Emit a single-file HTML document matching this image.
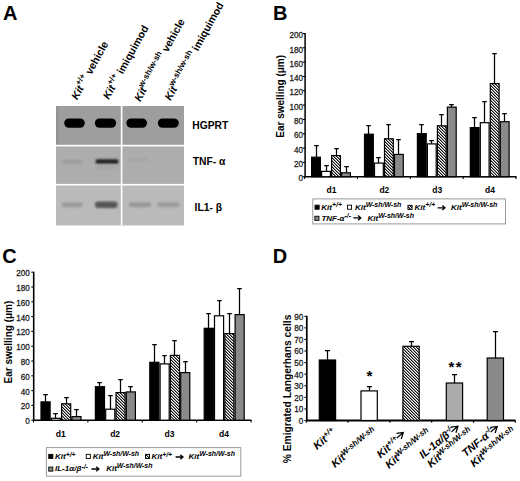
<!DOCTYPE html><html><head><meta charset="utf-8"><style>html,body{margin:0;padding:0;background:#fff;}svg{display:block;font-family:"Liberation Sans", sans-serif;}</style></head><body>
<svg width="520" height="481" viewBox="0 0 520 481">
<defs>
<pattern id="hatch" patternUnits="userSpaceOnUse" width="3" height="3"><rect width="3" height="3" fill="#fff"/><rect x="0" y="0" width="1" height="1" fill="#151515"/><rect x="1" y="0" width="1" height="1" fill="#8a8a8a"/><rect x="1" y="1" width="1" height="1" fill="#151515"/><rect x="2" y="1" width="1" height="1" fill="#8a8a8a"/><rect x="0" y="2" width="1" height="1" fill="#8a8a8a"/><rect x="2" y="2" width="1" height="1" fill="#151515"/></pattern>
<filter id="blur0" x="-20%" y="-50%" width="140%" height="200%"><feGaussianBlur stdDeviation="0.6"/></filter>
<filter id="blur1" x="-20%" y="-50%" width="140%" height="200%"><feGaussianBlur stdDeviation="0.9"/></filter>
<filter id="blur2" x="-20%" y="-80%" width="140%" height="260%"><feGaussianBlur stdDeviation="1.3"/></filter>
<linearGradient id="gtop" x1="0" y1="0" x2="0" y2="1"><stop offset="0" stop-color="#9a9a9a"/><stop offset="1" stop-color="#a2a2a2"/></linearGradient>
</defs>
<rect x="0.00" y="0.00" width="520.00" height="481.00" fill="#fff"/>
<text x="3.10" y="19.70" font-size="20" font-weight="bold" font-style="normal" text-anchor="start" fill="#000">A</text>
<text x="272.90" y="19.50" font-size="20" font-weight="bold" font-style="normal" text-anchor="start" fill="#000">B</text>
<text x="2.20" y="262.50" font-size="20" font-weight="bold" font-style="normal" text-anchor="start" fill="#000">C</text>
<text x="272.80" y="262.50" font-size="20" font-weight="bold" font-style="normal" text-anchor="start" fill="#000">D</text>
<rect x="56.00" y="106.00" width="128.00" height="40.00" fill="#9e9e9e"/>
<rect x="56.00" y="146.00" width="128.00" height="39.00" fill="#adadad"/>
<rect x="56.00" y="185.00" width="128.00" height="40.50" fill="#bababa"/>
<rect x="56.00" y="106.00" width="2.50" height="39.00" fill="#949494"/>
<rect x="56.00" y="144.80" width="128.00" height="1.60" fill="#fff"/>
<rect x="56.00" y="183.90" width="128.00" height="1.60" fill="#fff"/>
<rect x="120.80" y="106.00" width="1.60" height="119.50" fill="#fff"/>
<rect x="64.2" y="118.4" width="20.6" height="9.4" rx="4.7" fill="#000" filter="url(#blur0)"/>
<rect x="94.8" y="118.4" width="21.4" height="9.4" rx="4.7" fill="#000" filter="url(#blur0)"/>
<rect x="126.3" y="118.4" width="20.7" height="9.4" rx="4.7" fill="#000" filter="url(#blur0)"/>
<rect x="157.8" y="118.4" width="21.0" height="9.4" rx="4.7" fill="#000" filter="url(#blur0)"/>
<rect x="95.4" y="159.3" width="23.2" height="4.4" rx="2" fill="#222" filter="url(#blur1)"/>
<rect x="96" y="165" width="22" height="4" rx="2" fill="#a6a6a6" filter="url(#blur2)"/>
<rect x="62" y="160" width="21" height="3.6" rx="1.8" fill="#9c9c9c" filter="url(#blur2)"/>
<rect x="128" y="158" width="20" height="3.6" rx="1.8" fill="#a6a6a6" filter="url(#blur2)"/>
<rect x="61.5" y="202.4" width="21.5" height="4.8" rx="2.4" fill="#9a9a9a" filter="url(#blur2)"/>
<rect x="95" y="201.6" width="22.5" height="6.4" rx="3" fill="#555" filter="url(#blur1)"/>
<rect x="128.8" y="202.3" width="22.4" height="5" rx="2.5" fill="#999" filter="url(#blur2)"/>
<rect x="157.2" y="202.3" width="22.6" height="5" rx="2.5" fill="#9c9c9c" filter="url(#blur2)"/>
<text x="192.30" y="129.00" font-size="10.3" font-weight="bold" font-style="normal" text-anchor="start" fill="#000">HGPRT</text>
<text x="192.80" y="164.50" font-size="10.3" font-weight="bold" font-style="normal" text-anchor="start" fill="#000">TNF- α</text>
<text x="194.50" y="211.00" font-size="10.4" font-weight="bold" font-style="normal" text-anchor="start" fill="#000">IL1- β</text>
<text id="L1" x="77.20" y="100.50" font-size="10.6" font-weight="bold" transform="rotate(-61 77.20 100.50)"><tspan font-style="italic">Kit</tspan><tspan font-size="8.2" dy="-4.8">+/+</tspan><tspan dy="4.8"> vehicle</tspan></text>
<text id="L2" x="108.80" y="100.00" font-size="10.6" font-weight="bold" transform="rotate(-61 108.80 100.00)"><tspan font-style="italic">Kit</tspan><tspan font-size="8.2" dy="-4.8">+/+</tspan><tspan dy="4.8"> imiquimod</tspan></text>
<text id="L3" x="140.20" y="102.30" font-size="10.6" font-weight="bold" transform="rotate(-61 140.20 102.30)"><tspan font-style="italic">Kit</tspan><tspan font-size="8.2" dy="-4.8">w-sh/w-sh</tspan><tspan dy="4.8"> vehicle</tspan></text>
<text id="L4" x="170.50" y="101.20" font-size="10.6" font-weight="bold" transform="rotate(-61 170.50 101.20)"><tspan font-style="italic">Kit</tspan><tspan font-size="8.2" dy="-4.8">w-sh/w-sh</tspan><tspan dy="4.8"> imiquimod</tspan></text>
<line x1="305.10" y1="33.10" x2="305.10" y2="177.40" stroke="#000" stroke-width="1.5"/>
<line x1="302.70" y1="176.70" x2="305.10" y2="176.70" stroke="#000" stroke-width="1.1"/>
<text transform="translate(302.90 181.40) scale(0.9,1)" font-size="9" text-anchor="end" fill="#222" stroke="#222" stroke-width="0.3">0</text>
<line x1="302.70" y1="162.38" x2="305.10" y2="162.38" stroke="#000" stroke-width="1.1"/>
<text transform="translate(302.90 167.08) scale(0.9,1)" font-size="9" text-anchor="end" fill="#222" stroke="#222" stroke-width="0.3">20</text>
<line x1="302.70" y1="148.06" x2="305.10" y2="148.06" stroke="#000" stroke-width="1.1"/>
<text transform="translate(302.90 152.76) scale(0.9,1)" font-size="9" text-anchor="end" fill="#222" stroke="#222" stroke-width="0.3">40</text>
<line x1="302.70" y1="133.74" x2="305.10" y2="133.74" stroke="#000" stroke-width="1.1"/>
<text transform="translate(302.90 138.44) scale(0.9,1)" font-size="9" text-anchor="end" fill="#222" stroke="#222" stroke-width="0.3">60</text>
<line x1="302.70" y1="119.42" x2="305.10" y2="119.42" stroke="#000" stroke-width="1.1"/>
<text transform="translate(302.90 124.12) scale(0.9,1)" font-size="9" text-anchor="end" fill="#222" stroke="#222" stroke-width="0.3">80</text>
<line x1="302.70" y1="105.10" x2="305.10" y2="105.10" stroke="#000" stroke-width="1.1"/>
<text transform="translate(302.90 109.80) scale(0.9,1)" font-size="9" text-anchor="end" fill="#222" stroke="#222" stroke-width="0.3">100</text>
<line x1="302.70" y1="90.78" x2="305.10" y2="90.78" stroke="#000" stroke-width="1.1"/>
<text transform="translate(302.90 95.48) scale(0.9,1)" font-size="9" text-anchor="end" fill="#222" stroke="#222" stroke-width="0.3">120</text>
<line x1="302.70" y1="76.46" x2="305.10" y2="76.46" stroke="#000" stroke-width="1.1"/>
<text transform="translate(302.90 81.16) scale(0.9,1)" font-size="9" text-anchor="end" fill="#222" stroke="#222" stroke-width="0.3">140</text>
<line x1="302.70" y1="62.14" x2="305.10" y2="62.14" stroke="#000" stroke-width="1.1"/>
<text transform="translate(302.90 66.84) scale(0.9,1)" font-size="9" text-anchor="end" fill="#222" stroke="#222" stroke-width="0.3">160</text>
<line x1="302.70" y1="47.82" x2="305.10" y2="47.82" stroke="#000" stroke-width="1.1"/>
<text transform="translate(302.90 52.52) scale(0.9,1)" font-size="9" text-anchor="end" fill="#222" stroke="#222" stroke-width="0.3">180</text>
<line x1="302.70" y1="33.50" x2="305.10" y2="33.50" stroke="#000" stroke-width="1.1"/>
<text transform="translate(302.90 38.20) scale(0.9,1)" font-size="9" text-anchor="end" fill="#222" stroke="#222" stroke-width="0.3">200</text>
<line x1="305.10" y1="176.70" x2="516.50" y2="176.70" stroke="#000" stroke-width="1.4"/>
<line x1="304.50" y1="176.70" x2="304.50" y2="179.00" stroke="#000" stroke-width="1.1"/>
<line x1="357.40" y1="176.70" x2="357.40" y2="179.00" stroke="#000" stroke-width="1.1"/>
<line x1="410.30" y1="176.70" x2="410.30" y2="179.00" stroke="#000" stroke-width="1.1"/>
<line x1="463.20" y1="176.70" x2="463.20" y2="179.00" stroke="#000" stroke-width="1.1"/>
<line x1="516.00" y1="176.70" x2="516.00" y2="179.00" stroke="#000" stroke-width="1.1"/>
<text x="283.60" y="96.30" font-size="10" font-weight="bold" font-style="normal" text-anchor="middle" fill="#000" transform="rotate(-90 283.60 96.30)">Ear swelling (μm)</text>
<path d="M316.50 157.10 V145.50 M314.20 145.50 H318.80" stroke="#000" stroke-width="1.25" fill="none"/>
<rect x="311.60" y="157.20" width="8.80" height="19.50" fill="#000" stroke="#000" stroke-width="1.2"/>
<path d="M326.50 171.30 V165.50 M324.20 165.50 H328.80" stroke="#000" stroke-width="1.25" fill="none"/>
<rect x="321.60" y="171.40" width="8.80" height="5.30" fill="#fff" stroke="#000" stroke-width="1.2"/>
<path d="M336.50 155.50 V148.50 M334.20 148.50 H338.80" stroke="#000" stroke-width="1.25" fill="none"/>
<rect x="331.60" y="155.60" width="8.80" height="21.10" fill="url(#hatch)" stroke="#000" stroke-width="1.2"/>
<path d="M346.50 172.70 V166.50 M344.20 166.50 H348.80" stroke="#000" stroke-width="1.25" fill="none"/>
<rect x="341.60" y="172.80" width="8.80" height="3.90" fill="#8a8a8a" stroke="#000" stroke-width="1.2"/>
<path d="M368.50 134.10 V125.50 M366.20 125.50 H370.80" stroke="#000" stroke-width="1.25" fill="none"/>
<rect x="364.50" y="134.20" width="8.80" height="42.50" fill="#000" stroke="#000" stroke-width="1.2"/>
<path d="M378.50 163.00 V157.50 M376.20 157.50 H380.80" stroke="#000" stroke-width="1.25" fill="none"/>
<rect x="374.50" y="163.10" width="8.80" height="13.60" fill="#fff" stroke="#000" stroke-width="1.2"/>
<path d="M388.50 138.70 V124.50 M386.20 124.50 H390.80" stroke="#000" stroke-width="1.25" fill="none"/>
<rect x="384.50" y="138.80" width="8.80" height="37.90" fill="url(#hatch)" stroke="#000" stroke-width="1.2"/>
<path d="M398.50 154.30 V139.50 M396.20 139.50 H400.80" stroke="#000" stroke-width="1.25" fill="none"/>
<rect x="394.50" y="154.40" width="8.80" height="22.30" fill="#8a8a8a" stroke="#000" stroke-width="1.2"/>
<path d="M421.50 133.50 V124.50 M419.20 124.50 H423.80" stroke="#000" stroke-width="1.25" fill="none"/>
<rect x="417.40" y="133.60" width="8.80" height="43.10" fill="#000" stroke="#000" stroke-width="1.2"/>
<path d="M431.50 143.80 V140.50 M429.20 140.50 H433.80" stroke="#000" stroke-width="1.25" fill="none"/>
<rect x="427.40" y="143.90" width="8.80" height="32.80" fill="#fff" stroke="#000" stroke-width="1.2"/>
<path d="M441.50 125.70 V114.50 M439.20 114.50 H443.80" stroke="#000" stroke-width="1.25" fill="none"/>
<rect x="437.40" y="125.80" width="8.80" height="50.90" fill="url(#hatch)" stroke="#000" stroke-width="1.2"/>
<path d="M451.50 107.00 V104.50 M449.20 104.50 H453.80" stroke="#000" stroke-width="1.25" fill="none"/>
<rect x="447.40" y="107.10" width="8.80" height="69.60" fill="#8a8a8a" stroke="#000" stroke-width="1.2"/>
<path d="M474.50 127.50 V117.50 M472.20 117.50 H476.80" stroke="#000" stroke-width="1.25" fill="none"/>
<rect x="470.30" y="127.60" width="8.80" height="49.10" fill="#000" stroke="#000" stroke-width="1.2"/>
<path d="M484.50 122.60 V101.50 M482.20 101.50 H486.80" stroke="#000" stroke-width="1.25" fill="none"/>
<rect x="480.30" y="122.70" width="8.80" height="54.00" fill="#fff" stroke="#000" stroke-width="1.2"/>
<path d="M494.50 83.50 V53.50 M492.20 53.50 H496.80" stroke="#000" stroke-width="1.25" fill="none"/>
<rect x="490.30" y="83.60" width="8.80" height="93.10" fill="url(#hatch)" stroke="#000" stroke-width="1.2"/>
<path d="M504.50 121.60 V113.50 M502.20 113.50 H506.80" stroke="#000" stroke-width="1.25" fill="none"/>
<rect x="500.30" y="121.70" width="8.80" height="55.00" fill="#8a8a8a" stroke="#000" stroke-width="1.2"/>
<text x="331.50" y="192.50" font-size="8.5" font-weight="bold" font-style="normal" text-anchor="middle" fill="#000">d1</text>
<text x="384.35" y="192.50" font-size="8.5" font-weight="bold" font-style="normal" text-anchor="middle" fill="#000">d2</text>
<text x="437.20" y="192.50" font-size="8.5" font-weight="bold" font-style="normal" text-anchor="middle" fill="#000">d3</text>
<text x="490.05" y="192.50" font-size="8.5" font-weight="bold" font-style="normal" text-anchor="middle" fill="#000">d4</text>
<rect x="312.80" y="198.90" width="192.70" height="25.00" fill="#fff" stroke="#9a9a9a" stroke-width="1"/>
<rect x="315.05" y="205.15" width="4.10" height="4.10" fill="#000" stroke="#000" stroke-width="0.9"/>
<text x="321.30" y="209.60" font-size="8" font-weight="bold" font-style="italic">Kit<tspan font-size="6.9" dy="-2.5">+/+</tspan></text>
<rect x="347.45" y="205.15" width="4.10" height="4.10" fill="#fff" stroke="#000" stroke-width="0.9"/>
<text x="355.00" y="209.60" font-size="8" font-weight="bold" font-style="italic">Kit<tspan font-size="7" dy="-2.8">W-sh/W-sh</tspan></text>
<rect x="407.95" y="205.35" width="4.10" height="4.10" fill="url(#hatch)" stroke="#000" stroke-width="0.9"/>
<text x="414.60" y="209.60" font-size="8" font-weight="bold" font-style="italic">Kit<tspan font-size="6.9" dy="-2.5">+/+</tspan></text>
<path d="M437.60 207.80 H444.40 M442.30 205.50 L445.00 207.80 L442.30 210.10" fill="none" stroke="#000" stroke-width="1.3"/>
<text x="451.00" y="209.60" font-size="8" font-weight="bold" font-style="italic">Kit<tspan font-size="7" dy="-2.8">W-sh/W-sh</tspan></text>
<rect x="314.85" y="216.25" width="4.10" height="4.10" fill="#8a8a8a" stroke="#000" stroke-width="0.9"/>
<text x="321.40" y="220.60" font-size="8" font-weight="bold" font-style="italic">TNF-α<tspan font-size="6.9" dy="-2.5">-/-</tspan></text>
<path d="M353.40 217.90 H360.20 M358.10 215.60 L360.80 217.90 L358.10 220.20" fill="none" stroke="#000" stroke-width="1.3"/>
<text x="367.60" y="220.60" font-size="8" font-weight="bold" font-style="italic">Kit<tspan font-size="7" dy="-2.8">W-sh/W-sh</tspan></text>
<line x1="33.70" y1="271.80" x2="33.70" y2="420.90" stroke="#000" stroke-width="1.6"/>
<line x1="31.30" y1="420.20" x2="33.70" y2="420.20" stroke="#000" stroke-width="1.1"/>
<text transform="translate(29.70 424.20) scale(0.9,1)" font-size="9" text-anchor="end" fill="#222" stroke="#222" stroke-width="0.3">0</text>
<line x1="31.30" y1="405.40" x2="33.70" y2="405.40" stroke="#000" stroke-width="1.1"/>
<text transform="translate(29.70 409.40) scale(0.9,1)" font-size="9" text-anchor="end" fill="#222" stroke="#222" stroke-width="0.3">20</text>
<line x1="31.30" y1="390.60" x2="33.70" y2="390.60" stroke="#000" stroke-width="1.1"/>
<text transform="translate(29.70 394.60) scale(0.9,1)" font-size="9" text-anchor="end" fill="#222" stroke="#222" stroke-width="0.3">40</text>
<line x1="31.30" y1="375.80" x2="33.70" y2="375.80" stroke="#000" stroke-width="1.1"/>
<text transform="translate(29.70 379.80) scale(0.9,1)" font-size="9" text-anchor="end" fill="#222" stroke="#222" stroke-width="0.3">60</text>
<line x1="31.30" y1="361.00" x2="33.70" y2="361.00" stroke="#000" stroke-width="1.1"/>
<text transform="translate(29.70 365.00) scale(0.9,1)" font-size="9" text-anchor="end" fill="#222" stroke="#222" stroke-width="0.3">80</text>
<line x1="31.30" y1="346.20" x2="33.70" y2="346.20" stroke="#000" stroke-width="1.1"/>
<text transform="translate(29.70 350.20) scale(0.9,1)" font-size="9" text-anchor="end" fill="#222" stroke="#222" stroke-width="0.3">100</text>
<line x1="31.30" y1="331.40" x2="33.70" y2="331.40" stroke="#000" stroke-width="1.1"/>
<text transform="translate(29.70 335.40) scale(0.9,1)" font-size="9" text-anchor="end" fill="#222" stroke="#222" stroke-width="0.3">120</text>
<line x1="31.30" y1="316.60" x2="33.70" y2="316.60" stroke="#000" stroke-width="1.1"/>
<text transform="translate(29.70 320.60) scale(0.9,1)" font-size="9" text-anchor="end" fill="#222" stroke="#222" stroke-width="0.3">140</text>
<line x1="31.30" y1="301.80" x2="33.70" y2="301.80" stroke="#000" stroke-width="1.1"/>
<text transform="translate(29.70 305.80) scale(0.9,1)" font-size="9" text-anchor="end" fill="#222" stroke="#222" stroke-width="0.3">160</text>
<line x1="31.30" y1="287.00" x2="33.70" y2="287.00" stroke="#000" stroke-width="1.1"/>
<text transform="translate(29.70 291.00) scale(0.9,1)" font-size="9" text-anchor="end" fill="#222" stroke="#222" stroke-width="0.3">180</text>
<line x1="31.30" y1="272.20" x2="33.70" y2="272.20" stroke="#000" stroke-width="1.1"/>
<text transform="translate(29.70 276.20) scale(0.9,1)" font-size="9" text-anchor="end" fill="#222" stroke="#222" stroke-width="0.3">200</text>
<line x1="33.70" y1="420.20" x2="251.50" y2="420.20" stroke="#000" stroke-width="1.5"/>
<line x1="33.50" y1="420.20" x2="33.50" y2="422.50" stroke="#000" stroke-width="1.1"/>
<line x1="87.90" y1="420.20" x2="87.90" y2="422.50" stroke="#000" stroke-width="1.1"/>
<line x1="142.30" y1="420.20" x2="142.30" y2="422.50" stroke="#000" stroke-width="1.1"/>
<line x1="196.70" y1="420.20" x2="196.70" y2="422.50" stroke="#000" stroke-width="1.1"/>
<line x1="251.10" y1="420.20" x2="251.10" y2="422.50" stroke="#000" stroke-width="1.1"/>
<text x="11.80" y="342.10" font-size="10" font-weight="bold" font-style="normal" text-anchor="middle" fill="#000" transform="rotate(-90 11.80 342.10)">Ear swelling (μm)</text>
<path d="M45.50 401.80 V394.50 M43.20 394.50 H47.80" stroke="#000" stroke-width="1.25" fill="none"/>
<rect x="41.00" y="401.90" width="9.10" height="18.30" fill="#000" stroke="#000" stroke-width="1.2"/>
<path d="M55.50 418.20 V413.50 M53.20 413.50 H57.80" stroke="#000" stroke-width="1.25" fill="none"/>
<rect x="51.30" y="418.30" width="9.10" height="1.90" fill="#fff" stroke="#000" stroke-width="1.2"/>
<path d="M66.50 403.70 V397.50 M64.20 397.50 H68.80" stroke="#000" stroke-width="1.25" fill="none"/>
<rect x="61.60" y="403.80" width="9.10" height="16.40" fill="url(#hatch)" stroke="#000" stroke-width="1.2"/>
<path d="M76.50 416.50 V409.50 M74.20 409.50 H78.80" stroke="#000" stroke-width="1.25" fill="none"/>
<rect x="71.90" y="416.60" width="9.10" height="3.60" fill="#8a8a8a" stroke="#000" stroke-width="1.2"/>
<path d="M99.50 386.60 V382.50 M97.20 382.50 H101.80" stroke="#000" stroke-width="1.25" fill="none"/>
<rect x="95.40" y="386.70" width="9.10" height="33.50" fill="#000" stroke="#000" stroke-width="1.2"/>
<path d="M110.50 409.10 V395.50 M108.20 395.50 H112.80" stroke="#000" stroke-width="1.25" fill="none"/>
<rect x="105.70" y="409.20" width="9.10" height="11.00" fill="#fff" stroke="#000" stroke-width="1.2"/>
<path d="M120.50 392.50 V379.50 M118.20 379.50 H122.80" stroke="#000" stroke-width="1.25" fill="none"/>
<rect x="116.00" y="392.60" width="9.10" height="27.60" fill="url(#hatch)" stroke="#000" stroke-width="1.2"/>
<path d="M130.50 391.80 V386.50 M128.20 386.50 H132.80" stroke="#000" stroke-width="1.25" fill="none"/>
<rect x="126.30" y="391.90" width="9.10" height="28.30" fill="#8a8a8a" stroke="#000" stroke-width="1.2"/>
<path d="M154.50 362.20 V344.50 M152.20 344.50 H156.80" stroke="#000" stroke-width="1.25" fill="none"/>
<rect x="149.80" y="362.30" width="9.10" height="57.90" fill="#000" stroke="#000" stroke-width="1.2"/>
<path d="M164.50 363.80 V355.50 M162.20 355.50 H166.80" stroke="#000" stroke-width="1.25" fill="none"/>
<rect x="160.10" y="363.90" width="9.10" height="56.30" fill="#fff" stroke="#000" stroke-width="1.2"/>
<path d="M174.50 355.30 V340.50 M172.20 340.50 H176.80" stroke="#000" stroke-width="1.25" fill="none"/>
<rect x="170.40" y="355.40" width="9.10" height="64.80" fill="url(#hatch)" stroke="#000" stroke-width="1.2"/>
<path d="M185.50 372.50 V361.50 M183.20 361.50 H187.80" stroke="#000" stroke-width="1.25" fill="none"/>
<rect x="180.70" y="372.60" width="9.10" height="47.60" fill="#8a8a8a" stroke="#000" stroke-width="1.2"/>
<path d="M208.50 328.20 V313.50 M206.20 313.50 H210.80" stroke="#000" stroke-width="1.25" fill="none"/>
<rect x="204.20" y="328.30" width="9.10" height="91.90" fill="#000" stroke="#000" stroke-width="1.2"/>
<path d="M219.50 315.70 V300.50 M217.20 300.50 H221.80" stroke="#000" stroke-width="1.25" fill="none"/>
<rect x="214.50" y="315.80" width="9.10" height="104.40" fill="#fff" stroke="#000" stroke-width="1.2"/>
<path d="M229.50 333.50 V313.50 M227.20 313.50 H231.80" stroke="#000" stroke-width="1.25" fill="none"/>
<rect x="224.80" y="333.60" width="9.10" height="86.60" fill="url(#hatch)" stroke="#000" stroke-width="1.2"/>
<path d="M239.50 314.50 V288.50 M237.20 288.50 H241.80" stroke="#000" stroke-width="1.25" fill="none"/>
<rect x="235.10" y="314.60" width="9.10" height="105.60" fill="#8a8a8a" stroke="#000" stroke-width="1.2"/>
<text x="60.70" y="436.80" font-size="8.5" font-weight="bold" font-style="normal" text-anchor="middle" fill="#000">d1</text>
<text x="115.10" y="436.80" font-size="8.5" font-weight="bold" font-style="normal" text-anchor="middle" fill="#000">d2</text>
<text x="169.50" y="436.80" font-size="8.5" font-weight="bold" font-style="normal" text-anchor="middle" fill="#000">d3</text>
<text x="223.90" y="436.80" font-size="8.5" font-weight="bold" font-style="normal" text-anchor="middle" fill="#000">d4</text>
<rect x="46.40" y="447.60" width="194.40" height="28.60" fill="#fff" stroke="#9a9a9a" stroke-width="1"/>
<rect x="48.75" y="454.35" width="4.10" height="4.10" fill="#000" stroke="#000" stroke-width="0.9"/>
<text x="55.00" y="459.00" font-size="8" font-weight="bold" font-style="italic">Kit<tspan font-size="6.9" dy="-2.5">+/+</tspan></text>
<rect x="86.25" y="454.35" width="4.10" height="4.10" fill="#fff" stroke="#000" stroke-width="0.9"/>
<text x="92.80" y="459.00" font-size="8" font-weight="bold" font-style="italic">Kit<tspan font-size="7" dy="-2.8">W-sh/W-sh</tspan></text>
<rect x="145.45" y="454.35" width="4.10" height="4.10" fill="url(#hatch)" stroke="#000" stroke-width="0.9"/>
<text x="151.50" y="459.00" font-size="8" font-weight="bold" font-style="italic">Kit<tspan font-size="6.9" dy="-2.5">+/+</tspan></text>
<path d="M175.60 457.00 H182.40 M180.30 454.70 L183.00 457.00 L180.30 459.30" fill="none" stroke="#000" stroke-width="1.3"/>
<text x="188.60" y="459.00" font-size="8" font-weight="bold" font-style="italic">Kit<tspan font-size="7" dy="-2.8">W-sh/W-sh</tspan></text>
<rect x="48.75" y="467.05" width="4.10" height="4.10" fill="#8a8a8a" stroke="#000" stroke-width="0.9"/>
<text x="55.00" y="471.20" font-size="8" font-weight="bold" font-style="italic">IL-1α/β<tspan font-size="6.9" dy="-2.5">-/-</tspan></text>
<path d="M91.50 469.00 H98.30 M96.20 466.70 L98.90 469.00 L96.20 471.30" fill="none" stroke="#000" stroke-width="1.3"/>
<text x="106.20" y="471.20" font-size="8" font-weight="bold" font-style="italic">Kit<tspan font-size="7" dy="-2.8">W-sh/W-sh</tspan></text>
<line x1="306.80" y1="315.90" x2="306.80" y2="421.20" stroke="#000" stroke-width="1.7"/>
<line x1="304.40" y1="420.50" x2="306.80" y2="420.50" stroke="#000" stroke-width="1.1"/>
<text transform="translate(303.30 423.90) scale(0.9,1)" font-size="9" text-anchor="end" fill="#222" stroke="#222" stroke-width="0.3">0</text>
<line x1="304.40" y1="408.92" x2="306.80" y2="408.92" stroke="#000" stroke-width="1.1"/>
<text transform="translate(303.30 412.32) scale(0.9,1)" font-size="9" text-anchor="end" fill="#222" stroke="#222" stroke-width="0.3">10</text>
<line x1="304.40" y1="397.34" x2="306.80" y2="397.34" stroke="#000" stroke-width="1.1"/>
<text transform="translate(303.30 400.74) scale(0.9,1)" font-size="9" text-anchor="end" fill="#222" stroke="#222" stroke-width="0.3">20</text>
<line x1="304.40" y1="385.76" x2="306.80" y2="385.76" stroke="#000" stroke-width="1.1"/>
<text transform="translate(303.30 389.16) scale(0.9,1)" font-size="9" text-anchor="end" fill="#222" stroke="#222" stroke-width="0.3">30</text>
<line x1="304.40" y1="374.18" x2="306.80" y2="374.18" stroke="#000" stroke-width="1.1"/>
<text transform="translate(303.30 377.58) scale(0.9,1)" font-size="9" text-anchor="end" fill="#222" stroke="#222" stroke-width="0.3">40</text>
<line x1="304.40" y1="362.60" x2="306.80" y2="362.60" stroke="#000" stroke-width="1.1"/>
<text transform="translate(303.30 366.00) scale(0.9,1)" font-size="9" text-anchor="end" fill="#222" stroke="#222" stroke-width="0.3">50</text>
<line x1="304.40" y1="351.02" x2="306.80" y2="351.02" stroke="#000" stroke-width="1.1"/>
<text transform="translate(303.30 354.42) scale(0.9,1)" font-size="9" text-anchor="end" fill="#222" stroke="#222" stroke-width="0.3">60</text>
<line x1="304.40" y1="339.44" x2="306.80" y2="339.44" stroke="#000" stroke-width="1.1"/>
<text transform="translate(303.30 342.84) scale(0.9,1)" font-size="9" text-anchor="end" fill="#222" stroke="#222" stroke-width="0.3">70</text>
<line x1="304.40" y1="327.86" x2="306.80" y2="327.86" stroke="#000" stroke-width="1.1"/>
<text transform="translate(303.30 331.26) scale(0.9,1)" font-size="9" text-anchor="end" fill="#222" stroke="#222" stroke-width="0.3">80</text>
<line x1="304.40" y1="316.28" x2="306.80" y2="316.28" stroke="#000" stroke-width="1.1"/>
<text transform="translate(303.30 319.68) scale(0.9,1)" font-size="9" text-anchor="end" fill="#222" stroke="#222" stroke-width="0.3">90</text>
<line x1="306.80" y1="420.50" x2="515.50" y2="420.50" stroke="#000" stroke-width="1.8"/>
<line x1="306.30" y1="420.50" x2="306.30" y2="422.80" stroke="#000" stroke-width="1.1"/>
<line x1="348.10" y1="420.50" x2="348.10" y2="422.80" stroke="#000" stroke-width="1.1"/>
<line x1="389.90" y1="420.50" x2="389.90" y2="422.80" stroke="#000" stroke-width="1.1"/>
<line x1="431.70" y1="420.50" x2="431.70" y2="422.80" stroke="#000" stroke-width="1.1"/>
<line x1="473.50" y1="420.50" x2="473.50" y2="422.80" stroke="#000" stroke-width="1.1"/>
<line x1="515.30" y1="420.50" x2="515.30" y2="422.80" stroke="#000" stroke-width="1.1"/>
<text x="290.90" y="388.90" font-size="10.25" font-weight="bold" font-style="normal" text-anchor="middle" fill="#000" transform="rotate(-90 290.90 388.90)">% Emigrated Langerhans cells</text>
<path d="M327.50 359.90 V350.50 M325.00 350.50 H330.00" stroke="#000" stroke-width="1.25" fill="none"/>
<rect x="319.30" y="360.00" width="16.30" height="60.50" fill="#000" stroke="#000" stroke-width="1.2"/>
<path d="M369.50 390.80 V386.50 M367.00 386.50 H372.00" stroke="#000" stroke-width="1.25" fill="none"/>
<rect x="361.00" y="390.90" width="16.30" height="29.60" fill="#fff" stroke="#000" stroke-width="1.2"/>
<path d="M411.50 346.20 V341.50 M409.00 341.50 H414.00" stroke="#000" stroke-width="1.25" fill="none"/>
<rect x="402.90" y="346.30" width="16.30" height="74.20" fill="url(#hatch)" stroke="#000" stroke-width="1.2"/>
<path d="M454.50 382.90 V374.50 M452.00 374.50 H457.00" stroke="#000" stroke-width="1.25" fill="none"/>
<rect x="446.30" y="383.00" width="16.30" height="37.50" fill="#ababab" stroke="#000" stroke-width="1.2"/>
<path d="M495.50 357.90 V331.50 M493.00 331.50 H498.00" stroke="#000" stroke-width="1.25" fill="none"/>
<rect x="487.20" y="358.00" width="16.30" height="62.50" fill="#8a8a8a" stroke="#000" stroke-width="1.2"/>
<text x="369.60" y="381.20" font-size="15.5" font-weight="bold" font-style="normal" text-anchor="middle" fill="#000">*</text>
<text x="451.50" y="372.20" font-size="15" font-weight="bold" font-style="normal" text-anchor="middle" fill="#000">*</text>
<text x="458.70" y="372.20" font-size="15" font-weight="bold" font-style="normal" text-anchor="middle" fill="#000">*</text>
<text id="D1" x="317.00" y="450.00" font-size="10.8" font-weight="bold" font-style="italic" transform="rotate(-40 317.00 450.00)">Kit<tspan font-size="7.8" dy="-4">+/+</tspan></text>
<text id="D2" x="335.00" y="468.00" font-size="10.8" font-weight="bold" font-style="italic" transform="rotate(-40 335.00 468.00)">Kit<tspan font-size="8" dy="-3.6">W-sh/W-sh</tspan></text>
<text id="D3a" x="380.50" y="458.50" font-size="10.8" font-weight="bold" font-style="italic" transform="rotate(-40 380.50 458.50)">Kit<tspan font-size="7.8" dy="-4">+/+</tspan></text>
<text id="D3b" x="389.00" y="469.00" font-size="10.8" font-weight="bold" font-style="italic" transform="rotate(-40 389.00 469.00)">Kit<tspan font-size="8" dy="-3.6">W-sh/W-sh</tspan></text>
<text id="D4a" x="423.00" y="459.00" font-size="10.8" font-weight="bold" font-style="italic" transform="rotate(-40 423.00 459.00)">IL-1α/β<tspan font-size="7.8" dy="-4">-/-</tspan></text>
<text id="D4b" x="431.00" y="468.00" font-size="10.8" font-weight="bold" font-style="italic" transform="rotate(-40 431.00 468.00)">Kit<tspan font-size="8" dy="-3.6">W-sh/W-sh</tspan></text>
<text id="D5a" x="465.70" y="457.20" font-size="10.8" font-weight="bold" font-style="italic" transform="rotate(-40 465.70 457.20)">TNF-α<tspan font-size="7.8" dy="-4">-/-</tspan></text>
<text id="D5b" x="474.00" y="467.60" font-size="10.8" font-weight="bold" font-style="italic" transform="rotate(-40 474.00 467.60)">Kit<tspan font-size="8" dy="-3.6">W-sh/W-sh</tspan></text>
<g id="A3" transform="translate(403.30 432.50) rotate(-40)"><path d="M-8.5 0 H-0.6 M-5.8 -3.7 L0 0 L-5.8 3.7" fill="none" stroke="#000" stroke-width="1.25" stroke-linejoin="miter"/></g>
<g id="A4" transform="translate(458.00 426.20) rotate(-40)"><path d="M-8.5 0 H-0.6 M-5.8 -3.7 L0 0 L-5.8 3.7" fill="none" stroke="#000" stroke-width="1.25" stroke-linejoin="miter"/></g>
<g id="A5" transform="translate(497.20 426.50) rotate(-40)"><path d="M-8.5 0 H-0.6 M-5.8 -3.7 L0 0 L-5.8 3.7" fill="none" stroke="#000" stroke-width="1.25" stroke-linejoin="miter"/></g>
</svg></body></html>
